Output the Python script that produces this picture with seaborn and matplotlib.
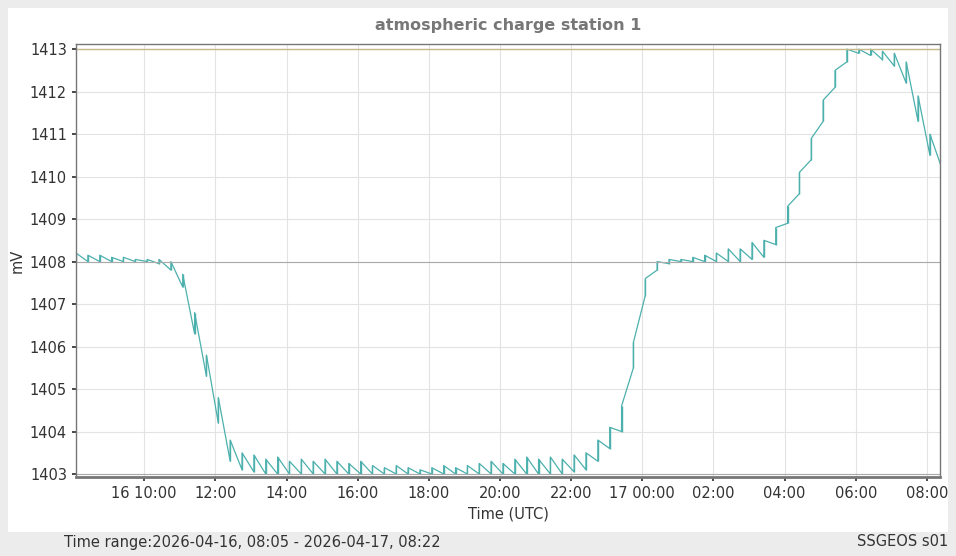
import numpy as np
import pandas as pd
import matplotlib
matplotlib.use("Agg")
import matplotlib.pyplot as plt
from matplotlib.patches import Rectangle
import seaborn as sns

start = "2026-04-16 08:05"
step_minutes = 20
low = ([1408.0]*7 + [1407.95, 1407.8, 1407.4, 1406.3, 1405.3, 1404.2, 1403.3, 1403.1, 1403.05]
       + [1403.0]*26
       + [1403.05, 1403.1, 1403.3, 1403.6, 1404.0, 1405.5, 1407.2, 1407.8, 1407.95]
       + [1408.0]*6
       + [1408.05, 1408.1, 1408.4, 1408.9, 1409.6, 1410.4, 1411.3, 1412.1, 1412.7, 1412.9,
          1412.85, 1412.75, 1412.6, 1412.2, 1411.3, 1410.5, 1410.2])
spike = ([0.2, 0.15, 0.15, 0.1, 0.1, 0.05, 0.05, 0.1, 0.2, 0.3, 0.5, 0.5, 0.6, 0.5, 0.4, 0.4]
         + [0.35, 0.4, 0.3, 0.35, 0.3, 0.35, 0.3, 0.25, 0.3, 0.2, 0.15, 0.2, 0.15, 0.1,
            0.15, 0.2, 0.15, 0.2, 0.25, 0.3, 0.25, 0.35, 0.4, 0.35, 0.4, 0.35]
         + [0.4, 0.4, 0.5, 0.5, 0.6, 0.6, 0.4, 0.2, 0.1]
         + [0.05, 0.1, 0.15, 0.2, 0.3, 0.3]
         + [0.4, 0.4, 0.4, 0.4, 0.5, 0.5, 0.5, 0.4, 0.3, 0.1, 0.15, 0.2, 0.3, 0.5, 0.6, 0.5, 0.3])

times = pd.date_range(start, periods=len(low), freq=f"{step_minutes}min")
df = pd.DataFrame({"time": times, "low": low, "high": np.array(low) + np.array(spike)})

sns.set_theme(style="white")
plt.rcParams["font.family"] = ["DejaVu Sans"]
fig = plt.figure(figsize=(9.56, 5.56), dpi=100, facecolor="#ececec")
fig.add_artist(Rectangle((8/956, 24/556), 940/956, 524/556, transform=fig.transFigure,
                         facecolor="white", edgecolor="none", zorder=-10))
ax = fig.add_axes([76/956, 79/556, 864/956, 433/556])
ax.set_zorder(1)
col = "#4cb0ad"
ax.vlines(df["time"], df["low"], df["high"], color=col, lw=1.0)
zz_t = np.repeat(df["time"].values, 2)
zz_v = np.ravel(np.column_stack([df["low"], df["high"]]))
sns.lineplot(x=zz_t, y=zz_v, ax=ax, color=col, lw=0.9, estimator=None, sort=False)

ax.axhline(1413, color="#c8b98a", lw=1)
ax.axhline(1408, color="#aaaaaa", lw=0.8)
ax.axhline(1403, color="#aaaaaa", lw=0.8)
ax.set_ylim(1402.93, 1413.12)
ax.set_xlim(pd.Timestamp("2026-04-16 08:05"), pd.Timestamp("2026-04-17 08:22"))
ax.set_yticks(range(1403, 1414))
ticks = pd.date_range("2026-04-16 10:00", "2026-04-17 08:00", freq="2h")
ax.set_xticks(ticks)
ax.set_xticklabels(["16 10:00" if t.hour == 10 and t.day == 16 else ("17 00:00" if t.hour == 0 else t.strftime("%H:%M")) for t in ticks])
ax.grid(True, color="#e3e3e3", lw=0.8)
ax.tick_params(axis="both", labelsize=10.5, colors="#333333", length=3, left=True, bottom=True)
for s in ax.spines.values():
    s.set_color("#777777")
    s.set_linewidth(1)
ax.spines["bottom"].set_linewidth(2)
ax.set_ylabel("mV", fontsize=10.5, color="#333333")
ax.set_xlabel("Time (UTC)", fontsize=10.5, color="#333333")
ax.set_title("atmospheric charge station 1", fontsize=11.5, fontweight="bold", color="#777777", pad=10)
fig.text(64/956, 1-542/556, "Time range:2026-04-16, 08:05 - 2026-04-17, 08:22", fontsize=10.5, color="#333333", va="center")
fig.text(948/956, 1-542/556, "SSGEOS s01", fontsize=10.5, color="#333333", va="center", ha="right")
fig.savefig("out.png", dpi=100, facecolor=fig.get_facecolor())
